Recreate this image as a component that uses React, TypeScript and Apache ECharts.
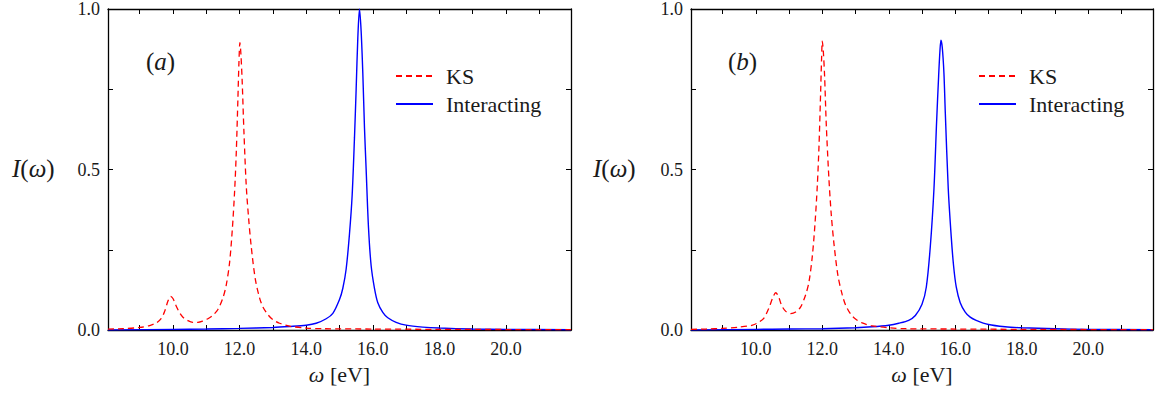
import React, { useEffect, useRef } from "react";
import * as echarts from "echarts";

// ---- data ----
const omegaKSa = [8.05, 8.5, 9.0, 9.3, 9.5, 9.65, 9.75, 9.85, 9.93, 10.0, 10.1, 10.2, 10.3, 10.45, 10.6, 10.75, 10.9, 11.05, 11.2, 11.35, 11.5, 11.6, 11.7, 11.78, 11.85, 11.9, 11.95, 11.98, 12.01, 12.04, 12.08, 12.13, 12.2, 12.27, 12.35, 12.47, 12.6, 12.7, 12.85, 13.0, 13.2, 13.5, 14.0, 14.5, 16.0, 18.0, 21.95];
const ksA = [0.003, 0.004, 0.008, 0.014, 0.022, 0.036, 0.058, 0.09, 0.105, 0.098, 0.074, 0.054, 0.04, 0.029, 0.024, 0.024, 0.028, 0.035, 0.046, 0.064, 0.1, 0.14, 0.21, 0.31, 0.43, 0.55, 0.72, 0.83, 0.895, 0.86, 0.77, 0.62, 0.45, 0.35, 0.26, 0.16, 0.1, 0.072, 0.048, 0.032, 0.021, 0.012, 0.006, 0.004, 0.003, 0.002, 0.001];

const omegaIntA = [8.05, 10.0, 11.0, 12.0, 13.0, 13.5, 14.0, 14.3, 14.6, 14.8, 15.0, 15.1, 15.2, 15.3, 15.38, 15.45, 15.5, 15.55, 15.6, 15.65, 15.7, 15.75, 15.8, 15.87, 15.95, 16.05, 16.15, 16.3, 16.45, 16.7, 17.0, 17.5, 18.0, 19.0, 20.0, 21.95];
const intA = [0.0, 0.002, 0.003, 0.005, 0.008, 0.011, 0.015, 0.021, 0.035, 0.052, 0.095, 0.13, 0.19, 0.3, 0.42, 0.6, 0.75, 0.91, 1.0, 0.93, 0.8, 0.63, 0.5, 0.32, 0.2, 0.13, 0.085, 0.055, 0.038, 0.024, 0.015, 0.009, 0.006, 0.003, 0.002, 0.001];

const omegaKSb = [8.05, 8.5, 9.0, 9.5, 9.9, 10.1, 10.25, 10.4, 10.5, 10.6, 10.68, 10.78, 10.9, 11.05, 11.2, 11.35, 11.5, 11.6, 11.7, 11.78, 11.85, 11.9, 11.95, 11.98, 12.0, 12.03, 12.07, 12.12, 12.2, 12.27, 12.35, 12.47, 12.6, 12.7, 12.85, 13.0, 13.2, 13.5, 14.0, 14.5, 16.0, 18.0, 21.95];
const ksB = [0.002, 0.003, 0.005, 0.009, 0.015, 0.025, 0.038, 0.07, 0.098, 0.116, 0.105, 0.076, 0.058, 0.051, 0.056, 0.072, 0.11, 0.15, 0.23, 0.33, 0.45, 0.57, 0.74, 0.85, 0.9, 0.87, 0.79, 0.64, 0.47, 0.36, 0.27, 0.17, 0.11, 0.078, 0.05, 0.034, 0.022, 0.013, 0.007, 0.004, 0.003, 0.002, 0.001];

const omegaIntB = [8.05, 10.0, 11.0, 12.0, 13.0, 13.5, 14.0, 14.3, 14.6, 14.8, 15.0, 15.13, 15.25, 15.36, 15.44, 15.5, 15.54, 15.57, 15.61, 15.66, 15.7, 15.79, 15.88, 15.95, 16.03, 16.15, 16.3, 16.45, 16.63, 17.0, 17.5, 18.0, 19.0, 20.0, 21.95];
const intB = [0.0, 0.002, 0.003, 0.004, 0.007, 0.01, 0.015, 0.021, 0.03, 0.045, 0.08, 0.134, 0.26, 0.44, 0.65, 0.79, 0.87, 0.903, 0.88, 0.8, 0.68, 0.44, 0.29, 0.2, 0.134, 0.085, 0.056, 0.04, 0.03, 0.017, 0.01, 0.007, 0.004, 0.002, 0.001];

const xTicks = [9, 10, 11, 12, 13, 14, 15, 16, 17, 18, 19, 20, 21];
const xTickLabels = [10, 12, 14, 16, 18, 20];
const yTickLabels = [0, 0.5, 1];
const X_MIN = 8.05;
const X_MAX = 21.95;

const FONT = "Times New Roman";
const TXT = "#1a1a1a";

const zip = (xs: number[], ys: number[]) => xs.map((x, i) => [x, ys[i]]);

function xAxes(gridIndex: number) {
  const base = {
    gridIndex,
    type: "value" as const,
    min: X_MIN,
    max: X_MAX,
    splitLine: { show: false },
    axisLine: { show: true, onZero: false, lineStyle: { color: "#000", width: 1.3 } },
    axisTick: { show: true, inside: true, length: 5, customValues: xTicks, lineStyle: { color: "#000", width: 1 } },
  };
  return [
    {
      ...base,
      position: "bottom",
      axisLabel: {
        customValues: xTickLabels,
        formatter: (v: number) => v.toFixed(1),
        fontFamily: FONT,
        fontSize: 18,
        color: TXT,
        margin: 10,
      },
      name: "{i|ω} [eV]",
      nameLocation: "middle",
      nameGap: 33,
      nameTextStyle: {
        fontFamily: FONT,
        fontSize: 22,
        color: TXT,
        rich: { i: { fontFamily: FONT, fontStyle: "italic", fontSize: 22, color: TXT } },
      },
    },
    { ...base, position: "top", axisLabel: { show: false } },
  ];
}

function yAxes(gridIndex: number) {
  const base = {
    gridIndex,
    type: "value" as const,
    min: 0,
    max: 1,
    interval: 0.25,
    splitLine: { show: false },
    axisLine: { show: true, onZero: false, lineStyle: { color: "#000", width: 1.3 } },
    axisTick: { show: true, inside: true, length: 5, lineStyle: { color: "#000", width: 1 } },
  };
  return [
    {
      ...base,
      position: "left",
      axisLabel: {
        customValues: yTickLabels,
        formatter: (v: number) => v.toFixed(1),
        fontFamily: FONT,
        fontSize: 18,
        color: TXT,
        margin: 8,
      },
    },
    { ...base, position: "right", axisLabel: { show: false } },
  ];
}

function lineSeries(name: string, data: number[][], xi: number, yi: number, color: string, dashed: boolean) {
  return {
    name,
    type: "line",
    xAxisIndex: xi,
    yAxisIndex: yi,
    data,
    symbol: "none",
    showSymbol: false,
    smooth: 0.3,
    lineStyle: { color, width: dashed ? 1.3 : 1.4, type: dashed ? [6, 4] : "solid" },
    itemStyle: { color },
    z: dashed ? 3 : 2,
  };
}

function legend(left: number) {
  return {
    left,
    top: 65,
    padding: 0,
    orient: "vertical",
    data: ["KS", "Interacting"],
    itemWidth: 37,
    itemHeight: 14,
    itemGap: 6,
    selectedMode: false,
    itemStyle: { opacity: 0, color: "transparent", borderWidth: 0 },
    textStyle: { fontFamily: FONT, fontSize: 22, color: TXT, padding: [0, 0, 0, 8] },
  };
}

function yLabel(x: number) {
  return {
    type: "text",
    x,
    y: 168,
    style: {
      text: "{i|I}({i|ω})",
      fontFamily: FONT,
      fontSize: 25,
      fill: TXT,
      verticalAlign: "middle",
      align: "left",
      rich: { i: { fontFamily: FONT, fontStyle: "italic", fontSize: 25, fill: TXT } },
    },
  };
}

function panelLabel(x: number, letter: string) {
  return {
    type: "text",
    x,
    y: 61,
    style: {
      text: "({i|" + letter + "})",
      fontFamily: FONT,
      fontSize: 25,
      fill: TXT,
      verticalAlign: "middle",
      align: "left",
      rich: { i: { fontFamily: FONT, fontStyle: "italic", fontSize: 25, fill: TXT } },
    },
  };
}

export default function App() {
  const ref = useRef<HTMLDivElement>(null);
  useEffect(() => {
    if (!ref.current) return;
    const chart = echarts.init(ref.current, undefined, { renderer: "svg" });
    chart.setOption({
      animation: false,
      grid: [
        { left: 108, top: 6, width: 463, height: 324 },
        { left: 691, top: 6, width: 462, height: 324 },
      ],
      xAxis: [...xAxes(0), ...xAxes(1)],
      yAxis: [...yAxes(0), ...yAxes(1)],
      legend: [legend(395), legend(978)],
      series: [
        lineSeries("KS", zip(omegaKSa, ksA), 0, 0, "#ff0000", true),
        lineSeries("Interacting", zip(omegaIntA, intA), 0, 0, "#0000ff", false),
        lineSeries("KS", zip(omegaKSb, ksB), 2, 2, "#ff0000", true),
        lineSeries("Interacting", zip(omegaIntB, intB), 2, 2, "#0000ff", false),
      ],
      graphic: [yLabel(12), yLabel(593), panelLabel(146, "a"), panelLabel(728, "b")],
    });
    return () => chart.dispose();
  }, []);
  return (
    <div
      ref={ref}
      style={{ position: "fixed", left: 0, top: 0, width: 1160, height: 394, background: "#fff" }}
    />
  );
}
